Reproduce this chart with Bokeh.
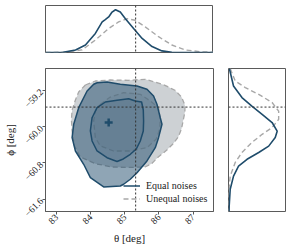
import math
from bokeh.plotting import figure
from bokeh.layouts import column, row
from bokeh.models import (FixedTicker, CustomJSTickFormatter, Legend, LegendItem,
                          Span, Range1d)
from bokeh.embed import file_html
from bokeh.resources import INLINE

# ---------------- data ----------------
theta_ticks = [83, 84, 85, 86, 87]
phi_ticks = [-59.2, -60.0, -60.8, -61.6]
theta_true = 85.32
phi_true = -59.57
theta_best = 84.53
phi_best = -59.91

# Unequal noises: 90% and 50% credible contours
uneq_outer_theta = [83.848, 84.140, 84.579, 85.105, 85.594, 85.886, 86.178, 86.471, 86.664, 86.763,
                    86.763, 86.713, 86.664, 86.567, 86.421, 86.225, 85.982, 85.787, 85.594, 85.114,
                    84.629, 84.140, 83.702, 83.526, 83.459, 83.439, 83.459, 83.556, 83.652]
uneq_outer_phi = [-59.083, -58.995, -58.973, -58.980, -58.958, -59.017, -59.090, -59.200, -59.348, -59.530,
                  -59.678, -59.861, -60.046, -60.229, -60.376, -60.522, -60.669, -60.817, -60.889, -60.900,
                  -60.889, -60.817, -60.669, -60.427, -60.096, -59.854, -59.634, -59.414, -59.237]
uneq_inner_theta = [84.287, 84.579, 84.968, 85.456, 85.749, 85.991, 86.041, 86.026, 85.924, 85.652,
                    85.164, 84.675, 84.287, 84.140, 84.091, 84.140]
uneq_inner_phi = [-59.508, -59.348, -59.253, -59.288, -59.436, -59.583, -59.804, -60.052, -60.273, -60.464,
                  -60.537, -60.537, -60.427, -60.244, -59.876, -59.656]

# Equal noises: 90% and 50% credible contours
eq_outer_theta = [84.190, 84.482, 84.871, 85.360, 85.652, 85.845, 85.944, 86.041, 86.091, 85.991,
                  85.895, 85.652, 85.360, 85.164, 84.968, 84.871, 84.383, 83.994, 83.798, 83.556,
                  83.459, 83.506, 83.652, 83.898, 84.091]
eq_outer_phi = [-59.033, -59.017, -59.068, -59.105, -59.178, -59.326, -59.508, -59.804, -59.949, -60.244,
                -60.464, -60.757, -61.015, -61.160, -61.270, -61.308, -61.330, -61.125, -60.830, -60.537,
                -60.244, -59.949, -59.583, -59.215, -59.068]
eq_inner_theta = [84.044, 84.190, 84.433, 84.775, 85.114, 85.310, 85.494, 85.544, 85.553, 85.544,
                  85.456, 85.339, 85.164, 84.959, 84.775, 84.482, 84.190, 84.044, 83.994]
eq_inner_phi = [-59.804, -59.583, -59.458, -59.420, -59.385, -59.436, -59.458, -59.634, -59.876, -60.096,
                -60.317, -60.493, -60.610, -60.713, -60.768, -60.685, -60.537, -60.317, -60.096]

# Marginal posteriors (normalised)
top_theta_eq = [82.68, 83.2, 83.56, 83.85, 84.14, 84.34, 84.43, 84.53, 84.63, 84.73, 84.87, 85.02,
                85.26, 85.51, 85.80, 86.09, 86.38, 86.8, 87.6]
top_dens_eq = [0.0, 0.005, 0.055, 0.16, 0.405, 0.65, 0.70, 0.756, 0.86, 0.91, 0.86, 0.72,
               0.51, 0.30, 0.126, 0.034, 0.006, 0.0, 0.0]
top_theta_uneq = [82.68, 83.26, 83.75, 84.14, 84.53, 84.82, 85.07, 85.31, 85.60, 85.99, 86.38, 86.77,
                  87.26, 87.6]
top_dens_uneq = [0.0, 0.006, 0.055, 0.265, 0.51, 0.65, 0.72, 0.685, 0.546, 0.336, 0.16, 0.055,
                 0.013, 0.005]

right_phi_eq = [-58.72, -59.105, -59.36, -59.55, -59.73, -59.91, -60.10, -60.24, -60.43, -60.57,
                -60.72, -60.87, -61.09, -61.38, -61.75, -61.87]
right_dens_eq = [0.015, 0.088, 0.236, 0.41, 0.59, 0.765, 0.854, 0.82, 0.705, 0.53,
                 0.325, 0.176, 0.088, 0.03, 0.012, 0.01]
right_phi_uneq = [-58.72, -58.995, -59.14, -59.29, -59.47, -59.66, -59.84, -60.02, -60.17, -60.35,
                  -60.57, -60.79, -61.09, -61.42, -61.87]
right_dens_uneq = [0.03, 0.118, 0.295, 0.53, 0.765, 0.88, 0.88, 0.765, 0.59, 0.41,
                   0.236, 0.118, 0.03, 0.005, 0.0]

labels = ["Equal noises", "Unequal noises"]

# ---------------- style ----------------
BLUE = "#1f4c6b"
GREY = "#a8a8a8"
FONT = "Liberation Serif"
FRAME = "#5a5a5a"

xr = Range1d(82.68, 87.6)
yr = Range1d(-61.87, -58.72)


def closed(a):
    return list(a) + [a[0]]


def style_frame(p):
    p.outline_line_color = FRAME
    p.outline_line_width = 1
    p.grid.visible = False
    p.background_fill_color = "white"
    p.border_fill_color = "white"


# top marginal
top = figure(frame_width=168, frame_height=47, x_range=xr, y_range=Range1d(0, 1),
             x_axis_location=None, y_axis_location=None, toolbar_location=None,
             output_backend="svg", min_border_left=45, min_border_right=0,
             min_border_top=5, min_border_bottom=16)
style_frame(top)
top.line(top_theta_uneq, top_dens_uneq, line_color=GREY, line_width=1.4, line_dash="5 3")
top.line(top_theta_eq, top_dens_eq, line_color=BLUE, line_width=1.6)
top.add_layout(Span(location=theta_true, dimension="height", line_color="#333333",
                    line_width=1, line_dash="2 2"))

# main joint panel
main = figure(frame_width=168, frame_height=143, x_range=xr, y_range=yr,
              toolbar_location=None, output_backend="svg",
              min_border_left=45, min_border_right=15, min_border_top=0, min_border_bottom=37)
style_frame(main)

main.patch(uneq_outer_theta, uneq_outer_phi, fill_color="#9ba3aa", fill_alpha=0.5, line_color=None)
main.patch(uneq_inner_theta, uneq_inner_phi, fill_color="#9ba3aa", fill_alpha=0.15, line_color=None)
main.line(closed(uneq_outer_theta), closed(uneq_outer_phi), line_color=GREY, line_width=1.3,
          line_dash="5 3")
r_uneq = main.line(closed(uneq_inner_theta), closed(uneq_inner_phi), line_color=GREY,
                   line_width=1.3, line_dash="5 3")
main.patch(eq_outer_theta, eq_outer_phi, fill_color=BLUE, fill_alpha=0.5, line_color=None)
main.patch(eq_inner_theta, eq_inner_phi, fill_color=BLUE, fill_alpha=0.15, line_color=None)
r_eq = main.line(closed(eq_outer_theta), closed(eq_outer_phi), line_color=BLUE, line_width=1.5)
main.line(closed(eq_inner_theta), closed(eq_inner_phi), line_color=BLUE, line_width=1.5)

main.scatter([theta_best], [phi_best], marker="cross", size=8, line_width=2.5,
             line_color=BLUE)

main.add_layout(Span(location=theta_true, dimension="height", line_color="#333333",
                     line_width=1, line_dash="2 2"))
main.add_layout(Span(location=phi_true, dimension="width", line_color="#333333",
                     line_width=1, line_dash="2 2"))

fmt_x = CustomJSTickFormatter(code="""
    return (tick < 0 ? "\u2212" : "") + Math.abs(tick).toFixed(0);
""")
fmt_y = CustomJSTickFormatter(code="""
    return (tick < 0 ? "\u2212" : "") + Math.abs(tick).toFixed(1);
""")
main.xaxis.ticker = FixedTicker(ticks=theta_ticks)
main.yaxis.ticker = FixedTicker(ticks=phi_ticks)
main.xaxis.formatter = fmt_x
main.yaxis.formatter = fmt_y
for ax in [main.xaxis[0], main.yaxis[0]]:
    ax.major_label_orientation = math.pi / 4
    ax.major_label_text_font = FONT
    ax.major_label_text_font_size = "9.5px"
    ax.major_label_text_color = "#222222"
    ax.axis_label_text_font = FONT
    ax.axis_label_text_font_size = "11px"
    ax.axis_label_text_font_style = "normal"
    ax.axis_label_text_color = "#222222"
    ax.axis_line_color = FRAME
    ax.major_tick_line_color = FRAME
    ax.major_tick_out = 3
    ax.major_tick_in = 0
    ax.minor_tick_line_color = None
    ax.major_label_standoff = 1
    ax.axis_label_standoff = 2
main.xaxis.axis_label = "θ [deg]"
main.yaxis.axis_label = "ϕ [deg]"

legend = Legend(items=[LegendItem(label=labels[0], renderers=[r_eq]),
                       LegendItem(label=labels[1], renderers=[r_uneq])],
                location=(78, 6), border_line_color=None, background_fill_alpha=0,
                padding=0, margin=0, spacing=0, glyph_width=17, glyph_height=13,
                label_height=13, label_standoff=6, label_text_font=FONT,
                label_text_font_size="10px", label_text_color="#222222")
main.add_layout(legend)

# right marginal
right = figure(frame_width=57, frame_height=143, x_range=Range1d(0, 1), y_range=yr,
               x_axis_location=None, y_axis_location=None, toolbar_location=None,
               output_backend="svg", min_border_left=0, min_border_right=8,
               min_border_top=0, min_border_bottom=37)
style_frame(right)
right.line(right_dens_uneq, right_phi_uneq, line_color=GREY, line_width=1.4, line_dash="5 3")
right.line(right_dens_eq, right_phi_eq, line_color=BLUE, line_width=1.6)
right.add_layout(Span(location=phi_true, dimension="width", line_color="#333333",
                      line_width=1, line_dash="2 2"))

p = column(top, row(main, right))

open("out.html", "w").write(file_html(p, INLINE))
